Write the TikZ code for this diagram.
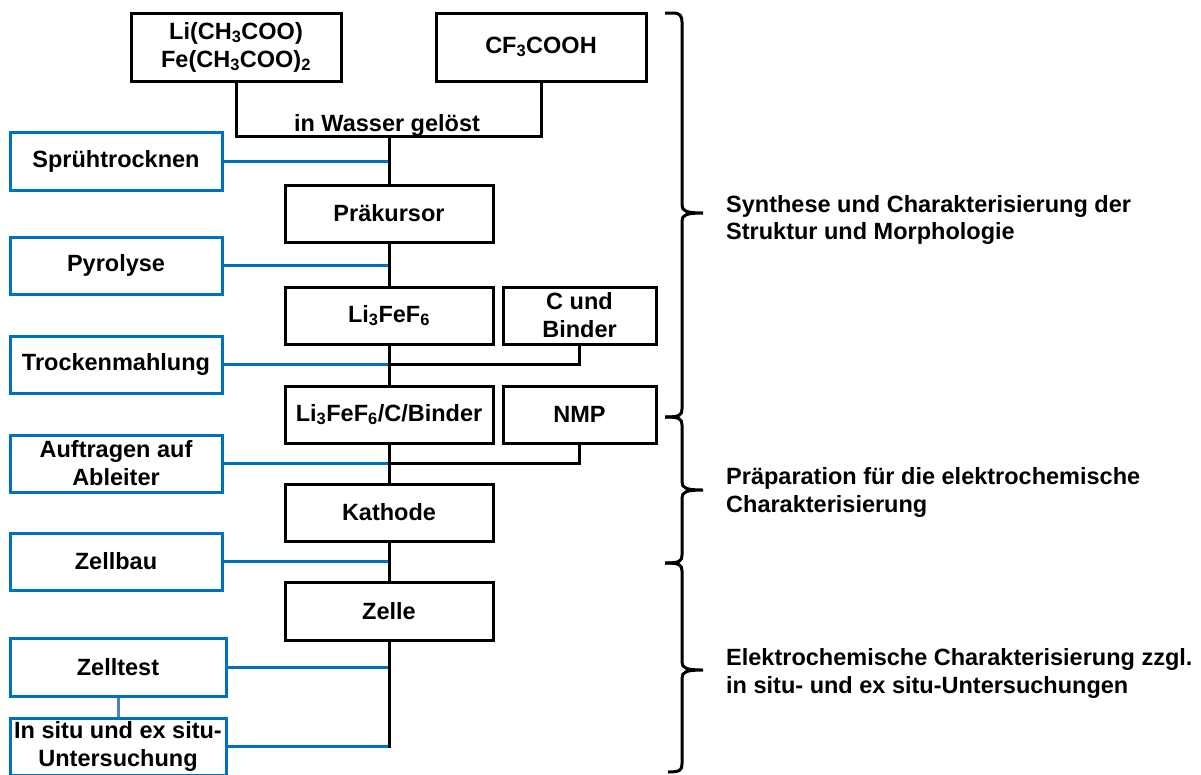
\documentclass[tikz,border=0pt]{standalone}
\usepackage{fontspec}
\setmainfont{Liberation Sans}
\definecolor{myblue}{RGB}{0,112,192}
\definecolor{greyblue}{RGB}{79,129,189}
\newcommand{\mainfs}{\fontsize{23.5}{28}\selectfont\bfseries}
\tikzset{
  bbox/.style={draw=black, line width=3pt, minimum width=208pt, minimum height=57pt, inner sep=0pt, align=center, font=\mainfs},
  lbox/.style={draw=myblue, line width=3pt, minimum width=212pt, minimum height=57pt, inner sep=0pt, align=center, font=\mainfs},
  conn/.style={line width=3pt, draw=black},
  bconn/.style={line width=3pt, draw=myblue},
  gconn/.style={line width=3pt, draw=greyblue},
  bracestyle/.style={line width=3pt, draw=black, line join=miter},
  lbl/.style={anchor=base west, inner sep=0pt, font=\mainfs},
}
\begin{document}
\begin{tikzpicture}[x=1pt, y=-1pt]
\useasboundingbox (0,0) rectangle (1201,774);
% black process boxes
\node[bbox, minimum width=210pt, minimum height=68pt] (A) at (236,47) {Li(CH\textsubscript{3}COO)\\Fe(CH\textsubscript{3}COO)\textsubscript{2}};
\node[bbox, minimum width=210pt, minimum height=68pt] (B) at (541,47) {CF\textsubscript{3}COOH};
\node[bbox] (prak) at (389,213.5) {Präkursor};
\node[bbox] (li) at (389,315.5) {Li\textsubscript{3}FeF\textsubscript{6}};
\node[bbox, minimum width=153pt] (cb) at (579.5,315.5) {C und\\Binder};
\node[bbox] (mix) at (389,414.5) {Li\textsubscript{3}FeF\textsubscript{6}/C/Binder};
\node[bbox, minimum width=153pt] (nmp) at (579.5,414.5) {NMP};
\node[bbox] (kath) at (389,512.5) {Kathode};
\node[bbox, minimum height=58pt] (zelle) at (389,611) {Zelle};
% blue step boxes
\node[lbox, minimum height=58pt] (spruh) at (116,161) {Sprühtrocknen};
\node[lbox] (pyro) at (116,265.5) {Pyrolyse};
\node[lbox] (trock) at (116,364.5) {Trockenmahlung};
\node[lbox] (auf) at (116,463.5) {Auftragen auf\\Ableiter};
\node[lbox] (zellbau) at (116,561.5) {Zellbau};
\node[lbox, minimum width=216pt, minimum height=58pt] (zelltest) at (118,667) {Zelltest};
\node[lbox, minimum width=216pt] (insitu) at (118,746.5) {In situ und ex situ-\\Untersuchung};
% junction
\coordinate (j0) at (389,136);
\node[anchor=base, inner sep=0pt, font=\mainfs] (wasser) at (387,131) {in Wasser gelöst};
% blue connectors
\draw[bconn] (spruh.east) -- (spruh.east -| j0);
\draw[bconn] (pyro.east) -- (pyro.east -| prak.south);
\draw[bconn] (trock.east) -- (trock.east -| li.south);
\draw[bconn] (auf.east) -- (auf.east -| mix.south);
\draw[bconn] (zellbau.east) -- (zellbau.east -| kath.south);
\draw[bconn] (zelltest.east) -- (zelltest.east -| zelle.south);
\draw[bconn] (insitu.east) -- (insitu.east -| zelle.south);
\draw[gconn] (zelltest.south) -- (insitu.north);
% black connectors
\draw[conn] (A.south) -- (A.south |- j0) -- (B.south |- j0) -- (B.south);
\draw[conn] (j0) -- (prak.north);
\draw[conn] (prak.south) -- (li.north);
\draw[conn] (li.south) -- (mix.north);
\draw[conn] (cb.south) |- (trock.east -| li.south);
\draw[conn] (mix.south) -- (kath.north);
\draw[conn] (nmp.south) |- (auf.east -| mix.south);
\draw[conn] (kath.south) -- (zelle.north);
\draw[conn] (zelle.south) -- ([yshift=-1.5pt]zelle.south |- insitu.east);
% braces
\draw[bracestyle] (665,13) -- (673,13) .. controls (680,13) and (682,16) .. (682,22) -- (682,205)
  .. controls (682,211) and (686,213) .. (703,213)
  .. controls (686,213) and (682,215) .. (682,221) -- (682,409)
  .. controls (682,415) and (680,417) .. (665,417);
\draw[bracestyle] (665,417) .. controls (680,417) and (682,419) .. (682,425) -- (682,482)
  .. controls (682,488) and (686,490) .. (703,490)
  .. controls (686,490) and (682,492) .. (682,498) -- (682,555)
  .. controls (682,561) and (680,563) .. (665,563);
\draw[bracestyle] (665,563) .. controls (680,563) and (682,565) .. (682,571) -- (682,662)
  .. controls (682,668) and (686,670) .. (703,670)
  .. controls (686,670) and (682,672) .. (682,678) -- (682,764)
  .. controls (682,770) and (680,772) .. (668,772);
% right labels
\node[lbl] (s1) at (726,212) {Synthese und Charakterisierung der};
\node[lbl] (s2) at (726,239) {Struktur und Morphologie};
\node[lbl] (p1) at (726,484) {Präparation für die elektrochemische};
\node[lbl] (p2) at (726,512) {Charakterisierung};
\node[lbl] (e1) at (726,665) {Elektrochemische Charakterisierung zzgl.};
\node[lbl] (e2) at (726,693) {in situ- und ex situ-Untersuchungen};
\end{tikzpicture}
\end{document}
